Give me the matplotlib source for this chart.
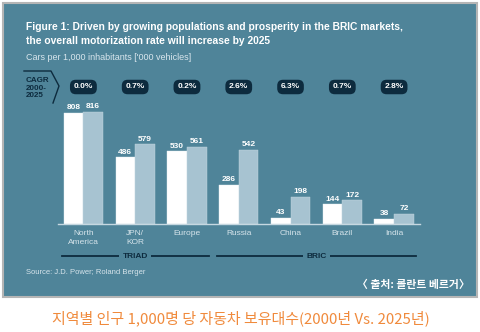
import matplotlib.pyplot as plt
from matplotlib.patches import Rectangle
from matplotlib.lines import Line2D
import matplotlib.transforms as mtransforms

regions = ["North\nAmerica", "JPN/\nKOR", "Europe", "Russia", "China", "Brazil", "India"]
cars_2000 = [808, 486, 530, 286, 43, 144, 38]
cars_2025 = [816, 579, 561, 542, 198, 172, 72]
cagr = ["0.0%", "0.7%", "0.2%", "2.6%", "6.3%", "0.7%", "2.8%"]
groups = [("TRIAD", 0, 2), ("BRIC", 3, 6)]

W, H = 481, 332
BG = "#4f8499"
LIGHT = "#a7c3d1"
NAVY = "#0d2b3e"
NARROW = ["Liberation Sans", "DejaVu Sans"]
KR = ["Noto Sans CJK KR", "DejaVu Sans"]


def fx(x):
    return x / W


def fy(y):
    return 1 - y / H


fig = plt.figure(figsize=(W / 100, H / 100), dpi=100)
fig.patch.set_facecolor("white")

# teal panel
fig.patches.append(Rectangle((fx(3), fy(297)), fx(474), 294 / H, transform=fig.transFigure,
                             facecolor=BG, edgecolor="#b5b5b5", linewidth=1.5, zorder=-5))

fig.text(fx(26), fy(27), "Figure 1: Driven by growing populations and prosperity in the BRIC markets,",
         color="white", fontsize=7.4, fontweight="bold", family=NARROW, va="center")
fig.text(fx(26), fy(41), "the overall motorization rate will increase by 2025",
         color="white", fontsize=7.4, fontweight="bold", family=NARROW, va="center")
fig.text(fx(26), fy(58), "Cars per 1,000 inhabitants ['000 vehicles]",
         color="#d9e6ed", fontsize=6.5, family=NARROW, va="center")

# CAGR marker
fig.text(fx(26), fy(88), "CAGR\n2000-\n2025", color=NAVY, fontsize=5.8, fontweight="bold",
         family=NARROW, va="center", linespacing=1.15)
fig.lines.append(Line2D([fx(24), fx(51), fx(59), fx(53)], [fy(71), fy(71), fy(86), fy(103)],
                        transform=fig.transFigure, color=NAVY, linewidth=1))

# bar axes: baseline at y=224, x spans 57..420 px
ax = fig.add_axes([fx(57.5), fy(224), (420 - 57.5) / W, 130 / H])
ax.set_facecolor("none")
scale = 111 / 808
ax.set_ylim(0, 130 / scale)
ax.set_xlim(-0.5, 6.5)

x = list(range(len(regions)))
bw = 0.38
ax.bar([i - bw / 2 for i in x], cars_2000, width=bw, color="white", edgecolor="#e6eef2", linewidth=0.3)
ax.bar([i + bw / 2 for i in x], cars_2025, width=bw, color=LIGHT, edgecolor="#c4d7e0", linewidth=0.3)

for i in x:
    ax.text(i - bw / 2, cars_2000[i] + 12, str(cars_2000[i]), ha="center", va="bottom",
            color="white", fontsize=6, fontweight="bold", family=NARROW)
    ax.text(i + bw / 2, cars_2025[i] + 12, str(cars_2025[i]), ha="center", va="bottom",
            color="white", fontsize=6, fontweight="bold", family=NARROW)

for s in ["top", "right", "left"]:
    ax.spines[s].set_visible(False)
ax.spines["bottom"].set_color("#c6d8e1")
ax.spines["bottom"].set_linewidth(1)
ax.set_yticks([])
ax.set_xticks(x)
ax.set_xticklabels(regions, color="#d6e4eb", fontsize=6, family=NARROW, linespacing=1.45)
ax.tick_params(axis="x", length=0, pad=4)

# CAGR pills above each group
blend = mtransforms.blended_transform_factory(ax.transData, fig.transFigure)
for i in x:
    ax.text(i, fy(87), cagr[i], transform=blend, ha="center", va="center", color="white",
            fontsize=6, fontweight="bold", family=NARROW,
            bbox=dict(boxstyle="round,pad=0.45,rounding_size=0.7", fc=NAVY, ec="none"))

# group brackets
for name, a, b in groups:
    mid = (a + b) / 2
    ax.add_line(Line2D([a - 0.42, b + 0.42], [fy(256), fy(256)], transform=blend,
                       color=NAVY, linewidth=1.3, clip_on=False))
    ax.text(mid, fy(256), name, transform=blend, ha="center", va="center", color=NAVY,
            fontsize=6, fontweight="bold", family=NARROW,
            bbox=dict(boxstyle="square,pad=0.4", fc=BG, ec="none"))

fig.text(fx(26), fy(273), "Source: J.D. Power; Roland Berger", color="#d6e4eb",
         fontsize=5.5, family=NARROW, va="center")
fig.text(fx(470), fy(285), "〈 출처: 롤란트 베르거〉", color="white", fontsize=7.8,
         fontweight="bold", family=KR, ha="right", va="center")

fig.text(0.5, fy(318), "지역별 인구 1,000명 당 자동차 보유대수(2000년 Vs. 2025년)", color="#f08a3c",
         fontsize=10.8, family=KR, ha="center", va="center")

fig.savefig("out.png", dpi=100, facecolor="white")
